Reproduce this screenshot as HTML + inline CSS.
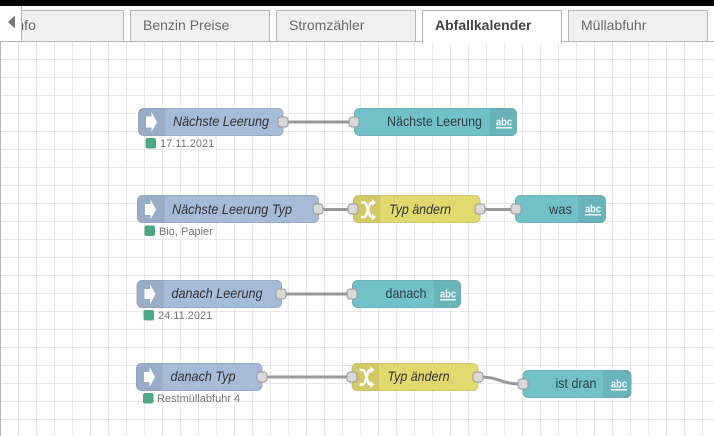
<!DOCTYPE html>
<html><head><meta charset="utf-8"><style>
html,body{margin:0;padding:0;background:#fff}
svg{display:block;filter:blur(.3px)}
text{font-family:"Liberation Sans",sans-serif}
.tab{fill:#f0f0f0;stroke:#b5b5b5;stroke-width:1}
.tt{font-size:14px;fill:#6a6a6a}
.lb{font-size:14px;fill:#333;font-style:italic;text-anchor:middle}
.lo{font-size:14px;fill:#2f3f46;text-anchor:middle}
.st{font-size:11px;fill:#777}
.abc{font-size:11px;font-weight:bold;fill:#f4fbfc;text-anchor:middle}
.wire{fill:none;stroke:#999;stroke-width:3}
.port{fill:#d9d9d9;stroke:#999;stroke-width:1}
.sep{fill:#000;fill-opacity:.07}
.inj{fill:#a6bbd8;stroke:#9aaac0}
.out{fill:#72c1c9;stroke:#6fb3ba}
.chg{fill:#e2d96e;stroke:#cfc878}
.dot{fill:#4ea883}
</style></head><body>
<svg width="714" height="436" viewBox="0 0 714 436" xmlns="http://www.w3.org/2000/svg">
<defs><pattern id="g" width="18" height="18" patternUnits="userSpaceOnUse" x="0" y="41">
<path d="M.5 0V18M0 .5H18" fill="none" stroke="#e8e8e8" stroke-width="1"/></pattern></defs>
<rect width="714" height="436" fill="#fff"/>
<rect x="0" y="41" width="714" height="395" fill="url(#g)"/>
<rect x="0" y="0" width="714" height="6" fill="#000"/>
<rect x="0" y="41" width="1" height="395" fill="#b5b5b5"/>
<path d="M0 41.5H714" stroke="#b5b5b5"/>

<rect class="tab" x="-10" y="10.5" width="133.5" height="31"/>
<text class="tt" x="12.500" y="30">Info</text>
<rect class="tab" x="130.500" y="10.500" width="139" height="31"/>
<text class="tt" x="143" y="30">Benzin Preise</text>
<rect class="tab" x="276.500" y="10.500" width="139" height="31"/>
<text class="tt" x="289" y="30">Stromzähler</text>
<rect x="422.500" y="10.500" width="139" height="32" fill="#fff" stroke="#b5b5b5"/>
<rect x="423" y="40" width="138" height="3" fill="#fff"/>
<text x="435" y="30" font-size="14" font-weight="bold" fill="#444">Abfallkalender</text>
<rect class="tab" x="568.500" y="10.500" width="139" height="31"/>
<text class="tt" x="581" y="30">Müllabfuhr</text>
<rect x="0" y="6" width="21.500" height="35" fill="#fff"/>
<path d="M21.5 6V41" stroke="#b5b5b5"/>
<path d="M15 15.500V28.500L8 22Z" fill="#777"/>

<path class="wire" d="M283 122H354"/>
<path class="wire" d="M318 209.500H353"/>
<path class="wire" d="M480 209.500H515"/>
<path class="wire" d="M281 294H352"/>
<path class="wire" d="M262 377H352"/>
<path class="wire" d="M478 377C502 377 498 384 523 384"/>

<!-- row 1 -->
<rect class="inj" x="138.500" y="108.500" width="144.500" height="27" rx="5"/>
<path class="sep" d="M143.500 108.500H165.500V135.500H143.500A5 5 0 0 1 138.500 130.500V113.500A5 5 0 0 1 143.500 108.500Z"/>
<path d="M146 116.500H151.500V112L157 122L151.500 132V127.500H146Z" fill="#fff"/>
<text class="lb" x="221" y="126" textLength="96" lengthAdjust="spacingAndGlyphs">Nächste Leerung</text>
<rect class="port" x="278" y="117" width="10" height="10" rx="3"/>
<rect class="dot" x="145.500" y="138" width="10.500" height="10.500" rx="2"/>
<text class="st" x="160" y="147">17.11.2021</text>
<rect class="out" x="354.500" y="108.500" width="162" height="27" rx="5"/>
<path class="sep" d="M489.500 108.500H511.500A5 5 0 0 1 516.500 113.500V130.500A5 5 0 0 1 511.500 135.500H489.500Z"/>
<text class="lo" x="434.500" y="126" textLength="95" lengthAdjust="spacingAndGlyphs">Nächste Leerung</text>
<text class="abc" x="504" y="125.500" textLength="16" lengthAdjust="spacingAndGlyphs">abc</text>
<rect x="496" y="127" width="16" height="1.500" fill="#f4fbfc"/>
<rect class="port" x="349" y="117" width="10" height="10" rx="3"/>

<!-- row 2 -->
<rect class="inj" x="137.500" y="195.500" width="181" height="27" rx="5"/>
<path class="sep" d="M142.500 195.500H165V222.500H142.500A5 5 0 0 1 137.500 217.500V200.500A5 5 0 0 1 142.500 195.500Z"/>
<path d="M145 204H150.500V199.500L156 209.500L150.500 219.500V215H145Z" fill="#fff"/>
<text class="lb" x="232" y="214" textLength="120" lengthAdjust="spacingAndGlyphs">Nächste Leerung Typ</text>
<rect class="port" x="313" y="204" width="10" height="10" rx="3"/>
<rect class="dot" x="144.500" y="225.500" width="10.500" height="10.500" rx="2"/>
<text class="st" x="159" y="235">Bio, Papier</text>
<rect class="chg" x="353.500" y="195.500" width="126.500" height="27" rx="5"/>
<path class="sep" d="M358.500 195.500H380.500V222.500H358.500A5 5 0 0 1 353.500 217.500V200.500A5 5 0 0 1 358.500 195.500Z"/>
<path d="M361 202.500H364C368 202.500 368 217 372 217H373M361 217H364C368 217 368 202.500 372 202.500H373" fill="none" stroke="#fff" stroke-width="2.500"/>
<path d="M372 199L376 202.500L372 206ZM372 213.500L376 217L372 220.500Z" fill="#fff"/>
<text class="lb" x="420" y="214" textLength="62" lengthAdjust="spacingAndGlyphs">Typ ändern</text>
<rect class="port" x="348" y="204" width="10" height="10" rx="3"/>
<rect class="port" x="475" y="204" width="10" height="10" rx="3"/>
<rect class="out" x="515.500" y="195.500" width="90" height="27" rx="5"/>
<path class="sep" d="M578 195.500H600.500A5 5 0 0 1 605.500 200.500V217.500A5 5 0 0 1 600.500 222.500H578Z"/>
<text class="lo" x="560.500" y="214" textLength="23" lengthAdjust="spacingAndGlyphs">was</text>
<text class="abc" x="593" y="212.500" textLength="16" lengthAdjust="spacingAndGlyphs">abc</text>
<rect x="585" y="214" width="16" height="1.500" fill="#f4fbfc"/>
<rect class="port" x="511" y="204" width="10" height="10" rx="3"/>

<!-- row 3 -->
<rect class="inj" x="137" y="280.500" width="144.500" height="27" rx="5"/>
<path class="sep" d="M142 280.500H164V307.500H142A5 5 0 0 1 137 302.500V285.500A5 5 0 0 1 142 280.500Z"/>
<path d="M144.500 289H150V284L155.500 294L150 304V299H144.500Z" fill="#fff"/>
<text class="lb" x="217" y="298" textLength="91" lengthAdjust="spacingAndGlyphs">danach Leerung</text>
<rect class="port" x="276" y="289" width="10" height="10" rx="3"/>
<rect class="dot" x="143.500" y="310" width="10.500" height="10.500" rx="2"/>
<text class="st" x="158" y="319">24.11.2021</text>
<rect class="out" x="352.500" y="280.500" width="108" height="27" rx="5"/>
<path class="sep" d="M434 280.500H455.500A5 5 0 0 1 460.500 285.500V302.500A5 5 0 0 1 455.500 307.500H434Z"/>
<text class="lo" x="406" y="298" textLength="41" lengthAdjust="spacingAndGlyphs">danach</text>
<text class="abc" x="448" y="297.500" textLength="16" lengthAdjust="spacingAndGlyphs">abc</text>
<rect x="440" y="299" width="16" height="1.500" fill="#f4fbfc"/>
<rect class="port" x="347" y="289" width="10" height="10" rx="3"/>

<!-- row 4 -->
<rect class="inj" x="136.500" y="363.500" width="125.500" height="27" rx="5"/>
<path class="sep" d="M141.500 363.500H162.500V390.500H141.500A5 5 0 0 1 136.500 385.500V368.500A5 5 0 0 1 141.500 363.500Z"/>
<path d="M144 372H149.500V367L155 377L149.500 387V382H144Z" fill="#fff"/>
<text class="lb" x="203" y="381" textLength="65" lengthAdjust="spacingAndGlyphs">danach Typ</text>
<rect class="port" x="257" y="372" width="10" height="10" rx="3"/>
<rect class="dot" x="143" y="393" width="10.500" height="10.500" rx="2"/>
<text class="st" x="157" y="402">Restmüllabfuhr 4</text>
<rect class="chg" x="352" y="363.500" width="126" height="27" rx="5"/>
<path class="sep" d="M357 363.500H379V390.500H357A5 5 0 0 1 352 385.500V368.500A5 5 0 0 1 357 363.500Z"/>
<path d="M359.500 370H362.500C366.500 370 366.500 384.500 370.500 384.500H371.500M359.500 384.500H362.500C366.500 384.500 366.500 370 370.500 370H371.500" fill="none" stroke="#fff" stroke-width="2.500"/>
<path d="M370.500 366.500L374.500 370L370.500 373.500ZM370.500 381L374.500 384.500L370.500 388Z" fill="#fff"/>
<text class="lb" x="418.500" y="381" textLength="62" lengthAdjust="spacingAndGlyphs">Typ ändern</text>
<rect class="port" x="347" y="372" width="10" height="10" rx="3"/>
<rect class="port" x="473" y="372" width="10" height="10" rx="3"/>
<rect class="out" x="523" y="370.500" width="108" height="27" rx="5"/>
<path class="sep" d="M603 370.500H626A5 5 0 0 1 631 375.500V392.500A5 5 0 0 1 626 397.500H603Z"/>
<text class="lo" x="576" y="388" textLength="41" lengthAdjust="spacingAndGlyphs">ist dran</text>
<text class="abc" x="619" y="387.500" textLength="16" lengthAdjust="spacingAndGlyphs">abc</text>
<rect x="611" y="389" width="16" height="1.500" fill="#f4fbfc"/>
<rect class="port" x="518" y="379" width="10" height="10" rx="3"/>
</svg>
</body></html>
